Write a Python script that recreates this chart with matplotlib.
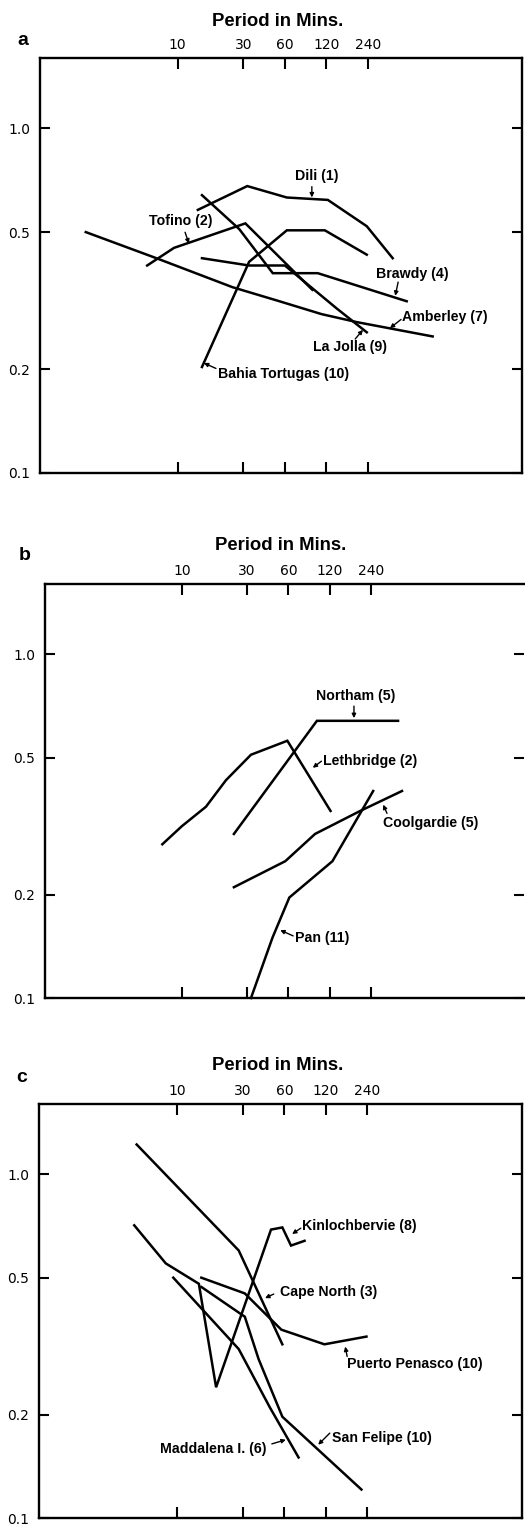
import matplotlib
matplotlib.use('Agg')
import matplotlib.pyplot as plt
from matplotlib.ticker import NullLocator

# axis ticks
period_ticks = [10, 30, 60, 120, 240]
period_labels = ['10', '30', '60', '120', '240']
amp_ticks = [0.1, 0.2, 0.5, 1.0]
amp_labels = ['0.1', '0.2', '0.5', '1.0']

# panel a
dili_x = [14, 32, 62, 123, 236, 364]
dili_y = [0.58, 0.68, 0.63, 0.62, 0.52, 0.42]
tofino_x = [6, 9.4, 31, 95]
tofino_y = [0.40, 0.45, 0.53, 0.34]
brawdy_x = [15, 28, 49, 104, 460]
brawdy_y = [0.64, 0.51, 0.38, 0.38, 0.315]
amberley_x = [2.15, 7, 25, 52, 111, 200, 710]
amberley_y = [0.50, 0.42, 0.346, 0.317, 0.289, 0.274, 0.249]
lajolla_x = [15, 33, 60, 143, 236]
lajolla_y = [0.42, 0.40, 0.40, 0.30, 0.256]
bahia_x = [15, 33, 62, 117, 236]
bahia_y = [0.203, 0.41, 0.506, 0.506, 0.43]

# panel b
lethbridge_x = [7.2, 10, 15, 21, 32, 59, 122]
lethbridge_y = [0.28, 0.316, 0.36, 0.43, 0.51, 0.56, 0.35]
northam_x = [24, 97, 380]
northam_y = [0.30, 0.64, 0.64]
coolgardie_x = [24, 57, 94, 201, 406]
coolgardie_y = [0.21, 0.25, 0.30, 0.35, 0.40]
pan_x = [32, 46, 61, 126, 250]
pan_y = [0.10, 0.15, 0.196, 0.25, 0.40]

# panel c
capenorth_x = [5.1, 28, 58]
capenorth_y = [1.22, 0.60, 0.32]
kinloch_x = [4.9, 8.3, 14.4, 19.2, 48, 58, 67, 84]
kinloch_y = [0.71, 0.55, 0.48, 0.24, 0.69, 0.70, 0.62, 0.64]
puerto_x = [15, 31, 57, 117, 236]
puerto_y = [0.50, 0.45, 0.353, 0.32, 0.337]
sanfelipe_x = [15, 31, 39, 58, 217]
sanfelipe_y = [0.47, 0.385, 0.29, 0.197, 0.121]
maddalena_x = [9.4, 28, 47, 76]
maddalena_y = [0.50, 0.31, 0.21, 0.15]

# labels: text, text pos, ha, arrow tail, arrow tip (axes fraction)
labels_a = [
    ('Dili (1)', (0.575, 0.716), 'center', (0.564, 0.690), (0.564, 0.664)),
    ('Tofino (2)', (0.293, 0.607), 'center', (0.301, 0.580), (0.309, 0.553)),
    ('Brawdy (4)', (0.772, 0.480), 'center', (0.743, 0.460), (0.737, 0.427)),
    ('Amberley (7)', (0.751, 0.376), 'left', (0.749, 0.370), (0.726, 0.349)),
    ('La Jolla (9)', (0.643, 0.304), 'center', (0.654, 0.323), (0.670, 0.345)),
    ('Bahia Tortugas (10)', (0.369, 0.239), 'left', (0.365, 0.252), (0.340, 0.265)),
]
labels_b = [
    ('Northam (5)', (0.649, 0.729), 'center', (0.645, 0.705), (0.645, 0.676)),
    ('Lethbridge (2)', (0.580, 0.572), 'left', (0.577, 0.572), (0.559, 0.556)),
    ('Coolgardie (5)', (0.706, 0.423), 'left', (0.714, 0.446), (0.706, 0.467)),
    ('Pan (11)', (0.522, 0.145), 'left', (0.518, 0.150), (0.491, 0.164)),
]
labels_c = [
    ('Kinlochbervie (8)', (0.5445, 0.705), 'left', (0.542, 0.700), (0.524, 0.686)),
    ('Cape North (3)', (0.499, 0.546), 'left', (0.486, 0.541), (0.468, 0.531)),
    ('Puerto Penasco (10)', (0.638, 0.372), 'left', (0.638, 0.390), (0.634, 0.414)),
    ('San Felipe (10)', (0.607, 0.193), 'left', (0.602, 0.205), (0.578, 0.177)),
    ('Maddalena I. (6)', (0.2505, 0.167), 'left', (0.482, 0.179), (0.511, 0.189)),
]

lab_font = dict(family='Liberation Sans', fontweight='bold', fontsize=10.2)

fig = plt.figure(figsize=(5.25, 15.25), dpi=100)


def setup(ax, letter, title_pos, letter_pos, right_spine=True):
    ax.set_xscale('log')
    ax.set_yscale('log')
    ax.set_xlim(1, 10 ** 3.5)
    ax.set_ylim(0.1, 1.6)
    ax.set_xticks(period_ticks)
    ax.set_xticklabels(period_labels)
    ax.set_yticks(amp_ticks)
    ax.set_yticklabels(amp_labels)
    ax.xaxis.set_minor_locator(NullLocator())
    ax.yaxis.set_minor_locator(NullLocator())
    ax.tick_params(axis='x', direction='in', top=True, bottom=True,
                   labeltop=True, labelbottom=False, length=8, width=1.5,
                   pad=4.5, labelsize=10)
    ax.tick_params(axis='y', direction='in', left=True, right=True,
                   labelleft=True, labelright=False, length=7, width=1.5,
                   pad=7, labelsize=10)
    for s in ax.spines.values():
        s.set_linewidth(1.7)
    if not right_spine:
        ax.spines['right'].set_visible(False)
    ax.text(title_pos[0], title_pos[1], 'Period in Mins.', transform=ax.transAxes,
            ha='center', va='center', family='Liberation Sans',
            fontweight='bold', fontsize=13.3)
    ax.text(letter_pos[0], letter_pos[1], letter, transform=ax.transAxes,
            ha='center', va='center', family='Liberation Sans',
            fontweight='bold', fontsize=14)


def add_labels(ax, labels):
    for txt, pos, ha, tail, tip in labels:
        ax.text(pos[0], pos[1], txt, transform=ax.transAxes, ha=ha,
                va='center', **lab_font)
        ax.annotate('', xy=tip, xytext=tail, xycoords='axes fraction',
                    textcoords='axes fraction',
                    arrowprops=dict(arrowstyle='-|>', color='black', lw=1.0,
                                    mutation_scale=6, shrinkA=0, shrinkB=0))


line_kw = dict(color='black', lw=1.8, solid_joinstyle='miter')

# panel a
ax_a = fig.add_axes([40 / 525, 1052 / 1525, 482 / 525, 415 / 1525])
setup(ax_a, 'a', (0.494, 1.087), (-0.035, 1.043))
ax_a.plot(dili_x, dili_y, **line_kw)
ax_a.plot(tofino_x, tofino_y, **line_kw)
ax_a.plot(brawdy_x, brawdy_y, **line_kw)
ax_a.plot(amberley_x, amberley_y, **line_kw)
ax_a.plot(lajolla_x, lajolla_y, **line_kw)
ax_a.plot(bahia_x, bahia_y, **line_kw)
add_labels(ax_a, labels_a)

# panel b
ax_b = fig.add_axes([45 / 525, 527 / 1525, 479 / 525, 414 / 1525])
setup(ax_b, 'b', (0.491, 1.094), (-0.042, 1.070), right_spine=False)
ax_b.plot(lethbridge_x, lethbridge_y, **line_kw)
ax_b.plot(northam_x, northam_y, **line_kw)
ax_b.plot(coolgardie_x, coolgardie_y, **line_kw)
ax_b.plot(pan_x, pan_y, clip_on=False, **line_kw)
add_labels(ax_b, labels_b)

# panel c
ax_c = fig.add_axes([39 / 525, 7 / 1525, 483 / 525, 414 / 1525])
setup(ax_c, 'c', (0.495, 1.092), (-0.035, 1.065))
ax_c.plot(capenorth_x, capenorth_y, **line_kw)
ax_c.plot(kinloch_x, kinloch_y, **line_kw)
ax_c.plot(puerto_x, puerto_y, **line_kw)
ax_c.plot(sanfelipe_x, sanfelipe_y, **line_kw)
ax_c.plot(maddalena_x, maddalena_y, **line_kw)
add_labels(ax_c, labels_c)

fig.savefig('out.png', dpi=100)
